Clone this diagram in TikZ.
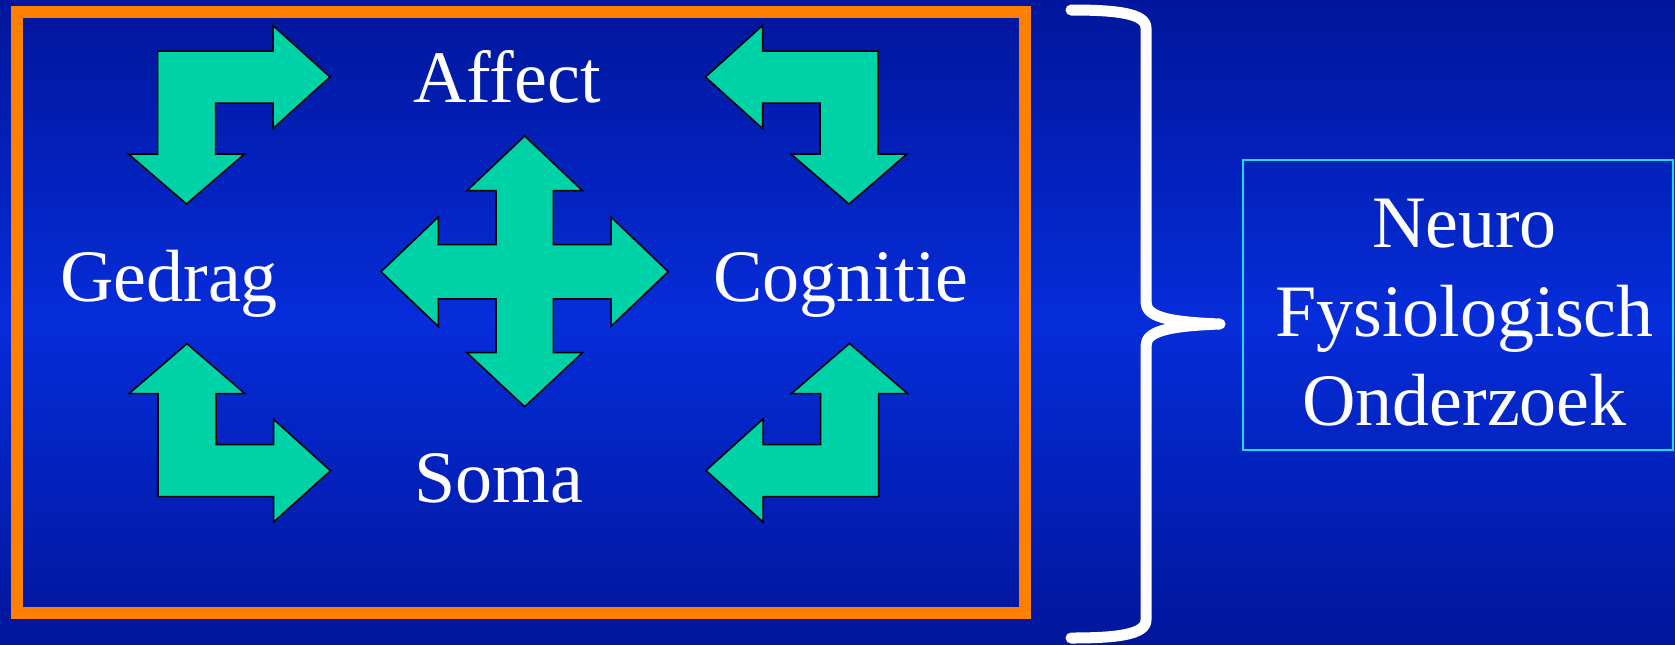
\documentclass[tikz,border=0pt]{standalone}
\usepackage{fontspec}
\setmainfont{Liberation Serif}
\usepackage{xcolor}
\definecolor{cBgDark}{HTML}{00169C}
\definecolor{cBgLight}{HTML}{062DDA}
\definecolor{cFrame}{HTML}{FF7F00}
\definecolor{cArrow}{HTML}{00D2A8}
\definecolor{cCyan}{HTML}{20D8F0}
\usepackage{tikz}
\usetikzlibrary{positioning}
\tikzset{
  arrow-shape/.style={draw=black,line width=0.75pt,fill=cArrow},
  label-big/.style={text=white,inner sep=0pt,font=\fontsize{37}{44.5}\selectfont},
  frame-box/.style={draw=cFrame,line width=6pt},
  brace-line/.style={draw=white,line width=5.5pt,line cap=round,line join=round},
  info-box/.style={draw=cCyan,line width=1pt,inner sep=0pt,
    minimum width=215pt,minimum height=145pt},
  % bent double arrow, origin at the bend
  bent-arrow/.pic={
    \draw[arrow-shape] (-29,-26) -- (86.5,-26) -- (86.5,-51.5) -- (143.5,0)
      -- (86.5,51.5) -- (86.5,26) -- (29,26) -- (29,77) -- (58,77)
      -- (0,127) -- (-58,77) -- (-29,77) -- cycle;
  },
  % four-way arrow, origin in the middle
  cross-arrow/.pic={
    \draw[arrow-shape] (-28.6,-27.2) -- (-28.6,-81) -- (-57.8,-81) -- (0,-135.7)
      -- (57.8,-81) -- (28.6,-81) -- (28.6,-27.2) -- (86.3,-27.2) -- (86.3,-54.7)
      -- (143.6,0) -- (86.3,54.7) -- (86.3,27.2) -- (28.6,27.2) -- (28.6,81)
      -- (57.8,81) -- (0,135) -- (-57.8,81) -- (-28.6,81) -- (-28.6,27.2)
      -- (-86.4,27.2) -- (-86.4,54.7) -- (-143.7,0) -- (-86.4,-54.7)
      -- (-86.4,-27.2) -- cycle;
  },
}

\begin{document}
\begin{tikzpicture}[x=0.5pt,y=-0.5pt]
  \useasboundingbox (0,0) rectangle (1675,644);
  % background, light in the middle, dark at top and bottom
  \foreach \i in {0,...,63} {
    \pgfmathsetmacro\mix{100-abs(\i-31.5)/31.5*100}
    \fill[cBgLight!\mix!cBgDark] (0,\i*10.0625) rectangle (1675,\i*10.0625+11);
  }

  \draw[frame-box] (17,12) rectangle (1024.5,613);

  % arrows between the four fields
  \pic at (186.5,77) {bent-arrow};
  \pic[xscale=-1] at (849,77) {bent-arrow};
  \pic[yscale=-1] at (187,470.7) {bent-arrow};
  \pic[xscale=-1,yscale=-1] at (849.5,470.5) {bent-arrow};
  \pic at (524.7,271.7) {cross-arrow};

  \node[label-big,anchor=base] (affect)   at (507,102.7) {Affect};
  \node[label-big,anchor=base] (gedrag)   at (169,301.7) {Gedrag};
  \node[label-big,anchor=base] (cognitie) at (841,301)   {Cognitie};
  \node[label-big,anchor=base] (soma)     at (499,502.7) {Soma};

  % brace
  \draw[brace-line] (1071,10) .. controls (1115,10) and (1146,13) .. (1146,28)
    -- (1146,302) .. controls (1146,316) and (1165,322) .. (1220,324)
    .. controls (1165,326) and (1146,332) .. (1146,346)
    -- (1146,620) .. controls (1146,635) and (1115,638) .. (1071,638);

  \node[info-box] (fysio-box) at (1458,305) {};
  \node[label-big,align=center] (fysio) at (1464.5,313)
    {Neuro\\Fysiologisch\\Onderzoek};
\end{tikzpicture}
\end{document}
